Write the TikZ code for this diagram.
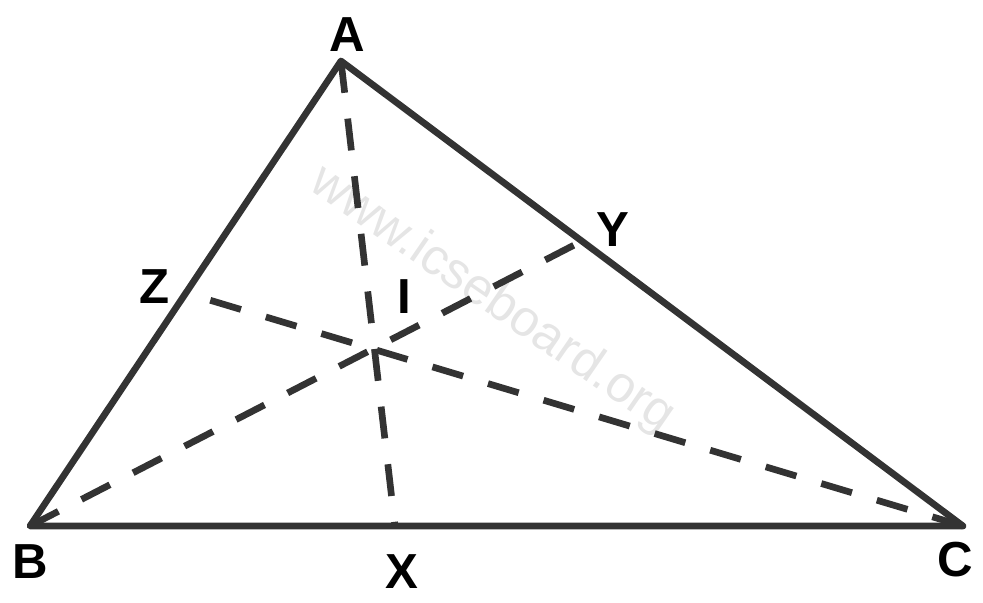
\documentclass[tikz,border=0pt]{standalone}
\usepackage{fontspec}
\setmainfont{Liberation Sans}

\begin{document}
\begin{tikzpicture}[x=0.02cm,y=-0.02cm,
			side/.style={draw=black!80, line width=3.8pt, line join=round, line cap=round},
			bisector/.style={draw=black!80, line width=3.8pt, dash pattern=on 0.64cm off 0.52cm},
			vlabel/.style={font=\fontsize{28}{30}\selectfont\bfseries, inner sep=0pt},
			watermark/.style={font=\fontsize{29}{31}\selectfont, text=black!10, rotate=-34.6, inner sep=0pt},
			]
			\useasboundingbox (0,0) rectangle (983,602);
			%Points
			\coordinate (A) at (341,61);
			\coordinate (B) at (30,526);
			\coordinate (C) at (963,526);
			\coordinate (X) at (395,526);
			\coordinate (Y) at (582,241);
			\coordinate (Z) at (186,293);
			
			%Watermark
			\node[watermark] (wm) at (492,300) {www.icseboard.org};
			
			%Nodes
			\node[vlabel] (lA) at (347,35)  {A};
			\node[vlabel] (lB) at (30,562)  {B};
			\node[vlabel] (lC) at (955,560) {C};
			\node[vlabel] (lX) at (402,572) {X};
			\node[vlabel] (lY) at (613,230) {Y};
			\node[vlabel] (lZ) at (155,287) {Z};
			\node[vlabel] (lI) at (404,297) {I};
			
			%Lines
			\draw[bisector] (A) -- (X);
			\draw[bisector] (B) -- (Y);
			\draw[bisector] (C) -- (Z);
			\draw[side] (A) -- (B) -- (C) -- cycle;
		\end{tikzpicture}
\end{document}
